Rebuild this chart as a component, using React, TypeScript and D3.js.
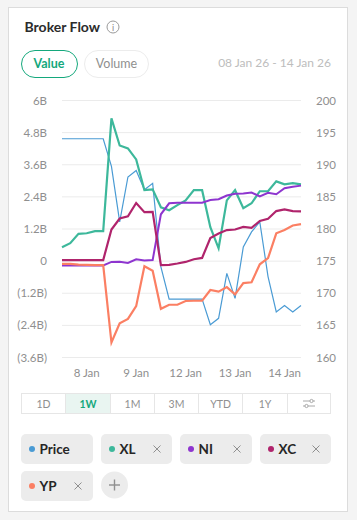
import React from "react";
import * as d3 from "d3";

const leftTicks = [6, 4.8, 3.6, 2.4, 1.2, 0, -1.2, -2.4, -3.6];
const rightTicks = [200, 195, 190, 185, 180, 175, 170, 165, 160];
const dayLabels = [[3, "8 Jan"], [9, "9 Jan"], [15, "12 Jan"], [21, "13 Jan"], [27, "14 Jan"]] as [number, string][];

const price = [194.05, 194.05, 194.05, 194.05, 194.05, 194.05, 189.75, 181.1, 188.1, 189.1, 186.1, 187.1, 174.1, 169.1, 169.1, 169.1, 169.1, 169.1, 165.1, 166.1, 173.1, 169.2, 177.2, 179.55, 181.1, 172.6, 167.1, 168.1, 167.1, 168.1];
const xl = [0.52, 0.67, 1.02, 1.04, 1.12, 1.12, 5.33, 4.32, 4.21, 3.8, 2.65, 2.68, 2.01, 1.9, 2.09, 2.27, 2.65, 2.65, 1.27, 0.48, 2.27, 2.65, 1.98, 2.16, 2.61, 2.61, 2.98, 2.87, 2.91, 2.87];
const ni = [-0.16, -0.16, -0.16, -0.16, -0.16, -0.16, -0.03, -0.02, -0.07, 0.07, 0.02, 0.04, 1.75, 2.16, 2.18, 2.18, 2.18, 2.18, 2.28, 2.31, 2.45, 2.52, 2.53, 2.56, 2.42, 2.55, 2.5, 2.72, 2.78, 2.82];
const xc = [0.04, 0.04, 0.04, 0.04, 0.04, 0.04, 1.18, 1.59, 1.67, 2.17, 1.83, 1.84, -0.15, -0.14, -0.09, -0.03, 0.07, 0.12, 0.86, 1.03, 1.16, 1.18, 1.28, 1.24, 1.5, 1.58, 1.87, 1.93, 1.87, 1.86];
const yp = [-0.1, -0.1, -0.13, -0.14, -0.15, -0.15, -3.04, -2.32, -2.16, -1.68, -0.19, -0.36, -1.78, -1.63, -1.63, -1.49, -1.48, -1.48, -1.08, -1.14, -0.97, -1.24, -0.82, -0.79, -0.12, 0.11, 1.04, 1.16, 1.33, 1.38];

const ranges = ["1D", "1W", "1M", "3M", "YTD", "1Y"];
const rangeEdges = [21.5, 65.5, 110.5, 154.5, 198.5, 242.5, 287.5, 330.5];

const chips = [
  { label: "Price", color: "#4a9bd4", x: 21, y: 434, w: 72, close: false },
  { label: "XL", color: "#3db89b", x: 101, y: 434, w: 71, close: true },
  { label: "NI", color: "#8e35cf", x: 180, y: 434, w: 72, close: true },
  { label: "XC", color: "#b0246c", x: 260, y: 434, w: 71, close: true },
  { label: "YP", color: "#fb7f63", x: 21, y: 471, w: 72, close: true },
];

const FONT = "Lato, 'Open Sans', sans-serif";
const GREY = "#8f8f8f";

export default function App() {
  const x = d3.scaleLinear().domain([0, price.length - 1]).range([62, 301]);
  const yL = d3.scaleLinear().domain([6, -3.6]).range([100.5, 357.5]);
  const yR = d3.scaleLinear().domain([200, 160]).range([100.5, 357.5]);
  const lineL = d3.line<number>().x((_, i) => x(i)).y((d) => yL(d));
  const lineR = d3.line<number>().x((_, i) => x(i)).y((d) => yR(d));
  const fmt = (v: number) => {
    if (v === 0) return "0";
    const s = `${Math.abs(v)}B`;
    return v < 0 ? `(${s})` : s;
  };

  return (
    <svg width={357} height={520} style={{ position: "absolute", left: 0, top: 0, fontFamily: FONT }}>
      <rect width={357} height={520} fill="#f4f4f4" />
      <rect x={8.5} y={7.5} width={339} height={504} fill="#fff" stroke="#dcdcdc" />

      <text x={24.5} y={31.5} fontSize={14} fontWeight={700} fill="#2b2b2b">Broker Flow</text>
      <circle cx={113} cy={27} r={6} fill="none" stroke="#9a9a9a" />
      <text x={113} y={30.5} fontSize={9} textAnchor="middle" fill="#8a8a8a">i</text>

      <rect x={21.5} y={50.5} width={56} height={27} rx={13.5} fill="#fff" stroke="#14a87c" />
      <text x={49} y={68} fontSize={12.5} fontWeight={700} textAnchor="middle" fill="#14a87c">Value</text>
      <rect x={84.5} y={50.5} width={64} height={27} rx={13.5} fill="#fff" stroke="#ececec" />
      <text x={116.5} y={68} fontSize={12.5} textAnchor="middle" fill="#8f8f8f">Volume</text>
      <text x={331} y={67} fontSize={12} textAnchor="end" fill="#bdbdbd">08 Jan 26 - 14 Jan 26</text>

      {leftTicks.map((t) => (
        <g key={t}>
          <line x1={62} x2={301} y1={yL(t)} y2={yL(t)} stroke="#ebebeb" />
          <text x={47} y={yL(t) + 4} fontSize={11.5} textAnchor="end" fill={GREY}>{fmt(t)}</text>
        </g>
      ))}
      {rightTicks.map((t) => (
        <text key={t} x={316} y={yR(t) + 4} fontSize={11.5} fill={GREY}>{t}</text>
      ))}
      {dayLabels.map(([i, l]) => (
        <text key={l} x={x(i)} y={377} fontSize={11.5} textAnchor="middle" fill={GREY}>{l}</text>
      ))}

      <path d={lineR(price)!} fill="none" stroke="#4a9bd4" strokeWidth={1.2} />
      <path d={lineL(xl)!} fill="none" stroke="#3db89b" strokeWidth={2.2} />
      <path d={lineL(ni)!} fill="none" stroke="#8e35cf" strokeWidth={2} />
      <path d={lineL(xc)!} fill="none" stroke="#b0246c" strokeWidth={2.2} />
      <path d={lineL(yp)!} fill="none" stroke="#fb7f63" strokeWidth={2.2} />

      <rect x={65.5} y={393.5} width={45} height={20} fill="#e9f5f1" />
      <rect x={21.5} y={393.5} width={309} height={20} fill="none" stroke="#e6e6e6" />
      {rangeEdges.slice(1, -1).map((e) => (
        <line key={e} x1={e} x2={e} y1={393.5} y2={413.5} stroke="#e6e6e6" />
      ))}
      {ranges.map((r, i) => (
        <text key={r} x={(rangeEdges[i] + rangeEdges[i + 1]) / 2} y={407.5} fontSize={10.5} textAnchor="middle"
          fontWeight={r === "1W" ? 700 : 400} fill={r === "1W" ? "#14a87c" : "#8f8f8f"}>{r}</text>
      ))}
      <g stroke="#a8a8a8" fill="#fff" strokeWidth={1}>
        <line x1={303} x2={315} y1={401} y2={401} />
        <line x1={303} x2={315} y1={406} y2={406} />
        <circle cx={311.5} cy={401} r={1.6} />
        <circle cx={306.5} cy={406} r={1.6} />
      </g>

      {chips.map((c) => (
        <g key={c.label}>
          <rect x={c.x} y={c.y} width={c.w} height={30} rx={5} fill="#ececec" />
          <circle cx={c.x + 11} cy={c.y + 15} r={3} fill={c.color} />
          <text x={c.x + 18.5} y={c.y + 19.5} fontSize={13.5} fontWeight={700} fill="#262626">{c.label}</text>
          {c.close && (
            <g stroke="#8f8f8f" strokeWidth={1}>
              <line x1={c.x + c.w - 18.5} x2={c.x + c.w - 11.5} y1={c.y + 11.5} y2={c.y + 18.5} />
              <line x1={c.x + c.w - 11.5} x2={c.x + c.w - 18.5} y1={c.y + 11.5} y2={c.y + 18.5} />
            </g>
          )}
        </g>
      ))}
      <circle cx={114.5} cy={485} r={13.5} fill="#ececec" />
      <g stroke="#8f8f8f" strokeWidth={1.4}>
        <line x1={109} x2={120} y1={485} y2={485} />
        <line x1={114.5} x2={114.5} y1={479.5} y2={490.5} />
      </g>
    </svg>
  );
}
